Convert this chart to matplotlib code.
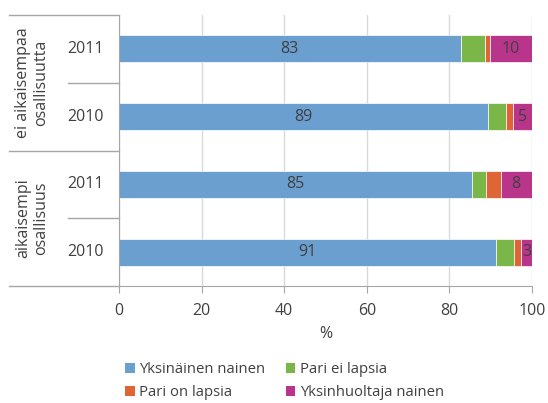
import matplotlib.pyplot as plt
from matplotlib.patches import Patch

plt.rcParams['font.family'] = ['Open Sans', 'DejaVu Sans']

groups = ['ei aikaisempaa\nosallisuutta', 'aikaisempi\nosallisuus']
years = ['2011', '2010', '2011', '2010']
series = ['Yksinäinen nainen', 'Pari ei lapsia', 'Pari on lapsia', 'Yksinhuoltaja nainen']
colors = ['#6a9fd0', '#7ab648', '#df6537', '#b9358b']
yksinainen = [82.7, 89.4, 85.5, 91.4]
pari_ei = [5.8, 4.4, 3.4, 4.2]
pari_on = [1.3, 1.7, 3.5, 1.7]
yksinhuoltaja = [10.2, 4.5, 7.6, 2.7]
labels_blue = ['83', '89', '85', '91']
labels_purple = ['10', '5', '8', '3']

fs = 11.5
txt = '#404040'

fig = plt.figure(figsize=(5.48, 4.03), dpi=100)
ax = fig.add_axes([0.2172, 0.2903, 0.7536, 0.6725])

ypos = [3, 2, 1, 0]
left = [0, 0, 0, 0]
bars = []
for vals, c in zip([yksinainen, pari_ei, pari_on, yksinhuoltaja], colors):
    b = ax.barh(ypos, vals, left=left, height=0.4, color=c, edgecolor='white', linewidth=0.5)
    bars.append(b)
    left = [l + v for l, v in zip(left, vals)]

ax.bar_label(bars[0], labels=labels_blue, label_type='center', color=txt, fontsize=fs)
ax.bar_label(bars[3], labels=labels_purple, label_type='center', color=txt, fontsize=fs)

ax.set_xlim(0, 100)
ax.set_ylim(-0.5, 3.5)
ax.set_xticks([0, 20, 40, 60, 80, 100])
ax.set_yticks([])
ax.grid(axis='x', color='#d9d9d9', linewidth=1)
ax.set_axisbelow(True)
for s in ['top', 'right']:
    ax.spines[s].set_visible(False)
for s in ['left', 'bottom']:
    ax.spines[s].set_color('#a6a6a6')
ax.tick_params(axis='x', length=5, color='#a6a6a6', labelcolor=txt, labelsize=fs, pad=7)
ax.set_xlabel('%', color=txt, fontsize=fs, labelpad=5)

# category separators left of the axis
tr = ax.get_yaxis_transform()
for y, x0 in [(3.5, -0.266), (2.5, -0.1235), (1.5, -0.266), (0.5, -0.1235), (-0.5, -0.266)]:
    ax.plot([x0, 0], [y, y], transform=tr, color='#a6a6a6', linewidth=1, clip_on=False)

for y, yr in zip(ypos, years):
    ax.text(-0.082, y, yr, transform=tr, ha='center', va='center', color=txt, fontsize=fs)
for y, g in zip([2.5, 0.5], groups):
    ax.text(-0.211, y, g, transform=tr, ha='center', va='center', rotation=90,
            color=txt, fontsize=fs, linespacing=1.15)

handles = [Patch(facecolor=c) for c in colors]
order = [0, 2, 1, 3]
fig.legend([handles[i] for i in order], [series[i] for i in order], ncol=2,
           loc='upper left', bbox_to_anchor=(0.215, 0.12), frameon=False,
           handlelength=0.65, handleheight=0.65, handletextpad=0.3, columnspacing=1.35,
           labelspacing=0.55, fontsize=10.7, labelcolor=txt, borderpad=0)

fig.savefig('out.png', dpi=100)
